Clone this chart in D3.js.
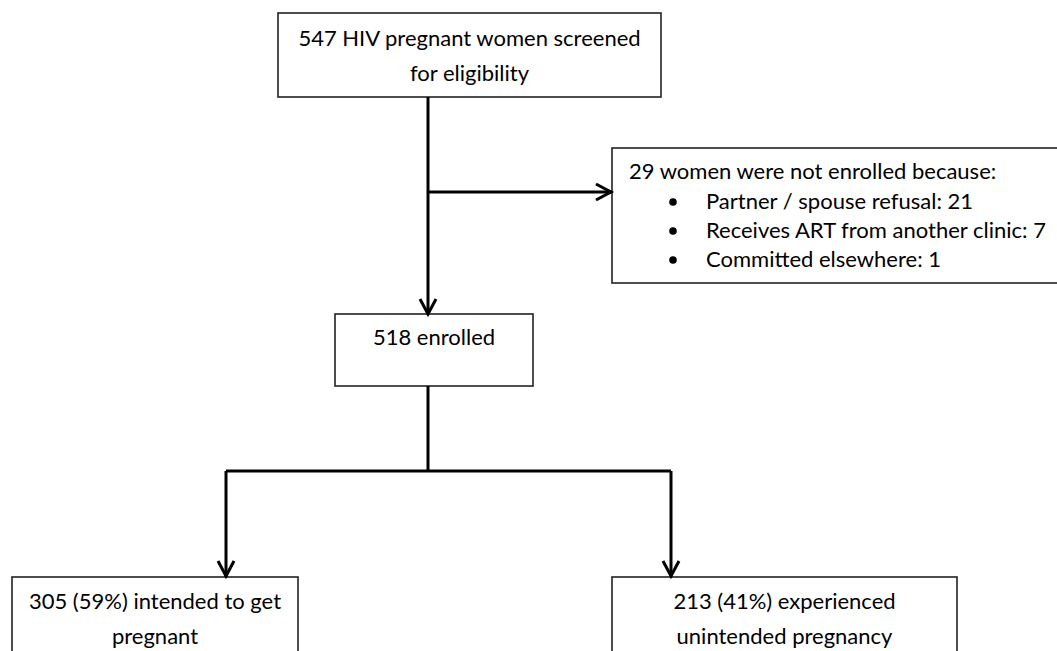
<!DOCTYPE html>
<html>
<head>
<meta charset="utf-8">
<script src="https://cdn.jsdelivr.net/npm/d3@7"></script>
<style>
  body { margin: 0; background: #fff; }
  text { font-family: Lato, "Open Sans", sans-serif; fill: #000; }
</style>
</head>
<body>
<script>
// flow numbers
var screened = 547;
var notEnrolled = 29;
var enrolled = 518;
var intended = 305;
var unintended = 213;

// reasons for not enrolling
var reasons = ["Partner / spouse refusal", "Receives ART from another clinic", "Committed elsewhere"];
var reasonCounts = [21, 7, 1];

// box texts (lines)
var topLines = [screened + " HIV pregnant women screened", "for eligibility"];
var sideTitle = notEnrolled + " women were not enrolled because:";
var midLines = [enrolled + " enrolled"];
var leftLines = [intended + " (59%) intended to get", "pregnant"];
var rightLines = [unintended + " (41%) experienced", "unintended pregnancy"];

var width = 1057, height = 651;

var svg = d3.select("body").append("svg")
  .attr("width", width)
  .attr("height", height);

// layout of the boxes (pixel positions)
var layout = {
  top:   {x0: 278, x1: 661, y0: 13,  y1: 97},
  side:  {x0: 612, x1: 1070, y0: 148, y1: 283},
  mid:   {x0: 335, x1: 533, y0: 314, y1: 386},
  left:  {x0: 12,  x1: 298, y0: 577, y1: 680},
  right: {x0: 612, x1: 957, y0: 577, y1: 680}
};

var fontSize = 22;
var lineGap = 35;
var trunkX = 428;
var branchY = 192;
var splitY = 471;
var leftX = 226, rightX = 671;

// boxes
var boxes = svg.append("g").attr("id", "boxes");
Object.keys(layout).forEach(function(k) {
  var b = layout[k];
  boxes.append("rect")
    .attr("x", b.x0)
    .attr("y", b.y0)
    .attr("width", b.x1 - b.x0)
    .attr("height", b.y1 - b.y0)
    .attr("fill", "none")
    .attr("stroke", "#222")
    .attr("stroke-width", 1.6);
});

// centred text in a box
function centredText(b, lines, firstBaseline) {
  lines.forEach(function(t, i) {
    svg.append("text")
      .attr("x", (b.x0 + b.x1) / 2)
      .attr("y", firstBaseline + i * lineGap)
      .attr("text-anchor", "middle")
      .style("font-size", fontSize + "px")
      .text(t);
  });
}

centredText(layout.top, topLines, 46);
centredText(layout.mid, midLines, 345);
centredText(layout.left, leftLines, 609);
centredText(layout.right, rightLines, 609);

// side box with bullet list
svg.append("text")
  .attr("x", 629)
  .attr("y", 179)
  .style("font-size", fontSize + "px")
  .text(sideTitle);

var bulletY = d3.scaleLinear().domain([0, 1]).range([209, 238]);
reasons.forEach(function(r, i) {
  svg.append("circle")
    .attr("cx", 673)
    .attr("cy", bulletY(i) - 7)
    .attr("r", 3.8)
    .attr("fill", "#000");
  svg.append("text")
    .attr("x", 706)
    .attr("y", bulletY(i))
    .style("font-size", fontSize + "px")
    .text(r + ": " + reasonCounts[i]);
});

// connectors
var lines = svg.append("g").attr("id", "connectors")
  .attr("fill", "none")
  .attr("stroke", "#000")
  .attr("stroke-width", 3);

var segs = [
  [[trunkX, layout.top.y1], [trunkX, layout.mid.y0]],
  [[trunkX, branchY], [layout.side.x0, branchY]],
  [[trunkX, layout.mid.y1], [trunkX, splitY]],
  [[leftX, splitY], [rightX, splitY]],
  [[leftX, splitY], [leftX, layout.left.y0]],
  [[rightX, splitY], [rightX, layout.right.y0]]
];
segs.forEach(function(s) {
  lines.append("path").attr("d", d3.line()(s));
});

// open arrow heads: [tip, direction]
var heads = [
  [[trunkX, layout.mid.y0], "down"],
  [[layout.side.x0 - 1, branchY], "right"],
  [[leftX, layout.left.y0 - 1], "down"],
  [[rightX, layout.right.y0 - 1], "down"]
];
heads.forEach(function(h) {
  var p = h[0], L = 15, W = 8, pts;
  if (h[1] == "down") pts = [[p[0] - W, p[1] - L], p, [p[0] + W, p[1] - L]];
  else pts = [[p[0] - L, p[1] - W], p, [p[0] - L, p[1] + W]];
  lines.append("path").attr("d", d3.line()(pts)).attr("stroke-linejoin", "miter");
});
</script>
</body>
</html>
